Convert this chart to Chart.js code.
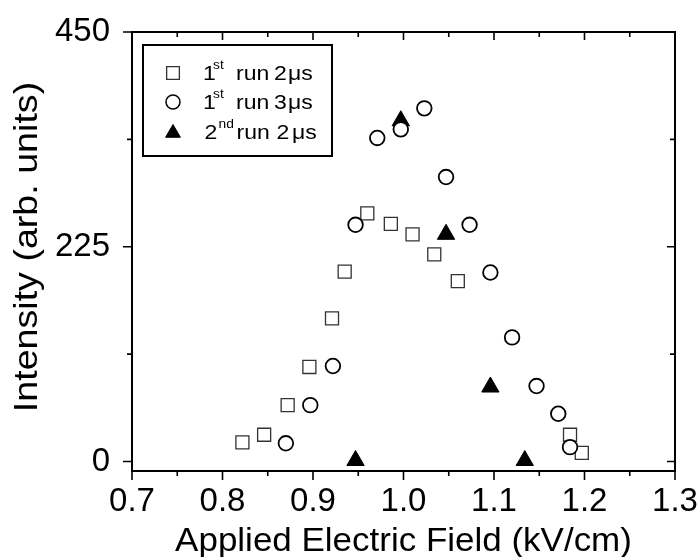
<!DOCTYPE html>
<html>
<head>
<meta charset="utf-8">
<script src="https://cdn.jsdelivr.net/npm/chart.js@4/dist/chart.umd.min.js"></script>
<style>
  html, body { margin: 0; padding: 0; background: #fff; }
  #wrap { width: 700px; height: 557px; }
</style>
</head>
<body>
<div id="wrap"><canvas id="chart" width="700" height="557"></canvas></div>
<script>
// values
var sqX = [0.822, 0.846, 0.872, 0.896, 0.921, 0.935, 0.960, 0.986, 1.010, 1.034, 1.060, 1.184, 1.197];
var sqY = [20, 28, 59, 99, 150, 199, 260, 249, 238, 217, 189, 28, 9];
var ciX = [0.870, 0.897, 0.922, 0.947, 0.971, 0.997, 1.023, 1.047, 1.073, 1.096, 1.120, 1.147, 1.171, 1.184];
var ciY = [19, 59, 100, 248, 339, 348, 370, 298, 248, 198, 130, 79, 50, 15];
var trX = [0.947, 0.997, 1.047, 1.096, 1.134];
var trY = [1, 357, 238, 78, 1];

var xMajor = [0.7, 0.8, 0.9, 1.0, 1.1, 1.2, 1.3];
var xMinor = [0.75, 0.85, 0.95, 1.05, 1.15, 1.25];
var yMajor = [0, 225, 450];
var yMinor = [112.5, 337.5];

var xTitle = 'Applied Electric Field (kV/cm)';
var yTitle = 'Intensity (arb. units)';

var FONT = "'Liberation Sans', Arial, sans-serif";

function pts(xs, ys) {
  return xs.map(function(v, i) { return {x: v, y: ys[i]}; });
}

// frame with ticks: out on left/bottom, in on top/right
var frame = {
  id: 'frame',
  beforeDatasetsDraw: function(chart) {
    var ctx = chart.ctx, a = chart.chartArea;
    var x = chart.scales.x, y = chart.scales.y;
    ctx.save();
    ctx.strokeStyle = '#000';
    ctx.lineWidth = 1.6;
    ctx.beginPath();
    xMajor.forEach(function(v) {
      var p = x.getPixelForValue(v);
      ctx.moveTo(p, a.bottom); ctx.lineTo(p, a.bottom + 9);
      ctx.moveTo(p, a.top); ctx.lineTo(p, a.top + 8);
    });
    xMinor.forEach(function(v) {
      var p = x.getPixelForValue(v);
      ctx.moveTo(p, a.bottom); ctx.lineTo(p, a.bottom + 5);
      ctx.moveTo(p, a.top); ctx.lineTo(p, a.top + 5);
    });
    yMajor.forEach(function(v) {
      var p = y.getPixelForValue(v);
      ctx.moveTo(a.left - 9, p); ctx.lineTo(a.left, p);
      ctx.moveTo(a.right - 8, p); ctx.lineTo(a.right, p);
    });
    yMinor.forEach(function(v) {
      var p = y.getPixelForValue(v);
      ctx.moveTo(a.left - 5, p); ctx.lineTo(a.left, p);
      ctx.moveTo(a.right - 5, p); ctx.lineTo(a.right, p);
    });
    ctx.stroke();
    ctx.lineWidth = 2;
    ctx.strokeRect(a.left, a.top, a.right - a.left, a.bottom - a.top);

    // axis titles, drawn a bit wide like the original export
    ctx.fillStyle = '#000';
    ctx.font = '33px ' + FONT;
    ctx.textAlign = 'center';
    ctx.textBaseline = 'alphabetic';
    ctx.save();
    ctx.translate((a.left + a.right) / 2, 551);
    ctx.scale(1.06, 1);
    ctx.fillText(xTitle, 0, 0);
    ctx.restore();
    ctx.save();
    ctx.translate(37, 247);
    ctx.rotate(-Math.PI / 2);
    ctx.scale(1.14, 1);
    ctx.fillText(yTitle, 0, 0);
    ctx.restore();
    ctx.restore();
  }
};

// legend box with superscripts
var legendBox = {
  id: 'legendBox',
  afterDatasetsDraw: function(chart) {
    var ctx = chart.ctx;
    ctx.save();
    ctx.fillStyle = '#fff';
    ctx.fillRect(143, 45, 189, 111);
    ctx.strokeStyle = '#000';
    ctx.lineWidth = 2;
    ctx.strokeRect(143, 45, 189, 111);

    var marks = [
      {s: {pointStyle: 'rect', radius: 9, borderColor: '#333', borderWidth: 1.3, backgroundColor: '#fff', rotation: 0}, y: 73},
      {s: {pointStyle: 'circle', radius: 7, borderColor: '#000', borderWidth: 1.5, backgroundColor: '#fff', rotation: 0}, y: 102},
      {s: {pointStyle: 'triangle', radius: 8.5, borderColor: '#000', borderWidth: 1, backgroundColor: '#000', rotation: 0}, y: 133}
    ];
    marks.forEach(function(m) {
      ctx.fillStyle = m.s.backgroundColor;
      ctx.strokeStyle = m.s.borderColor;
      ctx.lineWidth = m.s.borderWidth;
      Chart.helpers.drawPoint(ctx, m.s, 173, m.y);
    });

    var rows = [
      {base: 80, parts: [['1', 203, 0], ['st', 213, 1], ['run', 236, 0], ['2', 274, 0], ['\u03bcs', 288, 0]]},
      {base: 109, parts: [['1', 203, 0], ['st', 213, 1], ['run', 236, 0], ['3', 274, 0], ['\u03bcs', 288, 0]]},
      {base: 139, parts: [['2', 204.5, 0], ['nd', 218.5, 1], ['run', 236.5, 0], ['2', 276.5, 0], ['\u03bcs', 292, 0]]}
    ];
    ctx.fillStyle = '#000';
    ctx.textAlign = 'left';
    ctx.textBaseline = 'alphabetic';
    rows.forEach(function(r) {
      r.parts.forEach(function(p) {
        ctx.save();
        if (p[2]) {
          ctx.font = '12px ' + FONT;
          ctx.translate(p[1], r.base - 11);
        } else {
          ctx.font = '20px ' + FONT;
          ctx.translate(p[1], r.base);
        }
        ctx.scale(1.15, 1);
        ctx.fillText(p[0], 0, 0);
        ctx.restore();
      });
    });
    ctx.restore();
  }
};

new Chart('chart', {
  type: 'scatter',
  data: {
    datasets: [
      {label: '1st run 2 \u03bcs', data: pts(sqX, sqY), order: 1,
       pointStyle: 'rect', pointRadius: 9.2, pointBorderColor: '#333',
       pointBorderWidth: 1.3, pointBackgroundColor: '#fff'},
      {label: '1st run 3 \u03bcs', data: pts(ciX, ciY), order: 0,
       pointStyle: 'circle', pointRadius: 7.3, pointBorderColor: '#000',
       pointBorderWidth: 1.8, pointBackgroundColor: '#fff'},
      {label: '2nd run 2 \u03bcs', data: pts(trX, trY), order: 2,
       pointStyle: 'triangle', pointRadius: 10, pointBorderColor: '#000',
       pointBorderWidth: 1, pointBackgroundColor: '#000'}
    ]
  },
  options: {
    responsive: false,
    animation: false,
    events: [],
    layout: {padding: {top: 32, right: 25, left: 0, bottom: 0}},
    plugins: {legend: {display: false}, tooltip: {enabled: false}},
    scales: {
      x: {
        type: 'linear', min: 0.7, max: 1.3,
        grid: {display: false, drawTicks: false}, border: {display: false},
        afterBuildTicks: function(s) { s.ticks = xMajor.map(function(v) { return {value: v}; }); },
        afterFit: function(s) { s.height = 86; s.paddingLeft = 0; s.paddingRight = 0; },
        ticks: {
          autoSkip: false, maxRotation: 0, padding: 14, color: '#000',
          font: {family: FONT, size: 33, lineHeight: 1},
          callback: function(v) { return Number(v).toFixed(1); }
        }
      },
      y: {
        type: 'linear', min: -10, max: 450,
        grid: {display: false, drawTicks: false}, border: {display: false},
        afterBuildTicks: function(s) { s.ticks = yMajor.map(function(v) { return {value: v}; }); },
        afterFit: function(s) { s.width = 132; s.paddingTop = 0; s.paddingBottom = 0; },
        ticks: {
          autoSkip: false, padding: 22, color: '#000',
          font: {family: FONT, size: 33, lineHeight: 1},
          callback: function(v) { return String(v); }
        }
      }
    }
  },
  plugins: [frame, legendBox]
});
</script>
</body>
</html>
